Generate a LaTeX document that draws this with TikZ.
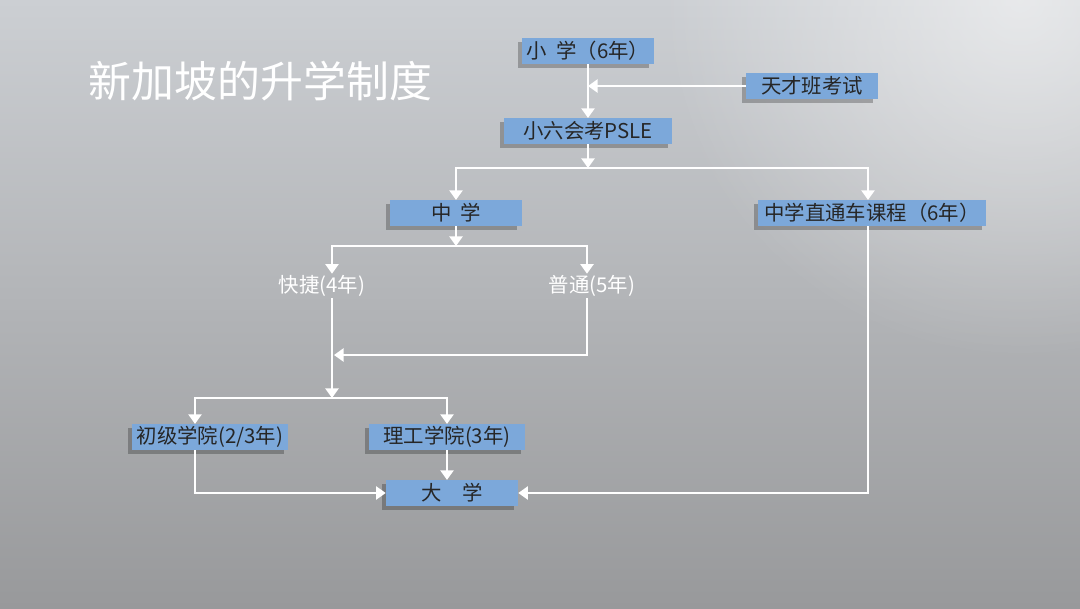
\documentclass[tikz,border=0pt]{standalone}
\usepackage{fontspec}
\setmainfont{Noto Sans CJK SC}
\usetikzlibrary{arrows.meta,shadows,fadings}
\definecolor{boxblue}{RGB}{124,168,218}
\definecolor{boxedge}{RGB}{70,118,178}
\definecolor{bgtop}{RGB}{204,207,211}
\definecolor{bgbot}{RGB}{152,153,155}
\tikzfading[name=glow, inner color=transparent!0, outer color=transparent!100]
\tikzset{
  box/.style={fill=boxblue, minimum height=0.64cm, inner sep=0pt, text=black!85,
    font=\fontsize{14.5}{16}\selectfont,
    drop shadow={shadow xshift=-3pt, shadow yshift=-3pt, opacity=.25, fill=black}},
  free/.style={text=white, font=\fontsize{14.5}{16}\selectfont, inner sep=1pt},
  arr/.style={-{Triangle[width=0.33cm,length=0.24cm]}, white, line width=1.3pt},
  ln/.style={white, line width=1.3pt}
}
\begin{document}
\begin{tikzpicture}[x=0.025cm, y=-0.025cm]
\useasboundingbox (0,0) rectangle (1080,608);
% background
\shade[top color=bgtop, bottom color=bgbot] (0,0) rectangle (1080,608);
\begin{scope}
\clip (0,0) rectangle (1080,608);
\fill[white, path fading=glow, opacity=.55] (1020,0) circle (360);
\end{scope}

% title
\node[text=white, font=\fontsize{30.5}{34}\selectfont, anchor=west] (title) at (84,81) {新加坡的升学制度};

% boxes
\node[box, minimum width=3.28cm] (xx) at (588,51) {小\ \ 学（6年）};
\node[box, minimum width=3.28cm] (tc) at (812,86) {天才班考试};
\node[box, minimum width=4.2cm] (psle) at (588,131) {小六会考PSLE};
\node[box, minimum width=3.28cm] (zx) at (456,213) {中\ \ 学};
\node[box, minimum width=5.7cm] (zt) at (872,213) {中学直通车课程（6年）};
\node[free] (kj) at (322,286) {快捷(4年)};
\node[free] (pt) at (592,286) {普通(5年)};
\node[box, minimum width=3.9cm] (cj) at (210,437) {初级学院(2/3年)};
\node[box, minimum width=3.9cm] (lg) at (447,437) {理工学院(3年)};
\node[box, minimum width=3.3cm] (dx) at (452,493) {大\quad 学};

% branch points
\coordinate (b1) at (588,168);
\coordinate (b2) at (456,246);
\coordinate (b3) at (332,398);
\coordinate (b4) at (334,355);
\coordinate (b5) at (195,398);
\coordinate (b6) at (868,168);

% connectors
\draw[arr] (xx) -- (psle);
\draw[arr] (tc) -- (tc -| xx);
\draw[arr] (psle) -- (b1);
\draw[arr] (b1) -| (zx);
\draw[arr] (b1) -| (b6 |- zt.north);
\draw[arr] (zx) -- (b2);
\draw[arr] (b2) -| (b3 |- kj.north);
\draw[arr] (b2) -| (pt.north -| 587,0);
\draw[arr] (b3 |- kj.south) -- (b3);
\draw[arr] (pt.south -| 587,0) |- (b4);
\draw[arr] (b3) -| (b5 |- cj.north);
\draw[arr] (b3) -| (lg);
\draw[arr] (b5 |- cj.south) |- (dx);
\draw[arr] (lg) -- (lg |- dx.north);
\draw[arr] (b6 |- zt.south) |- (dx);
\end{tikzpicture}
\end{document}
